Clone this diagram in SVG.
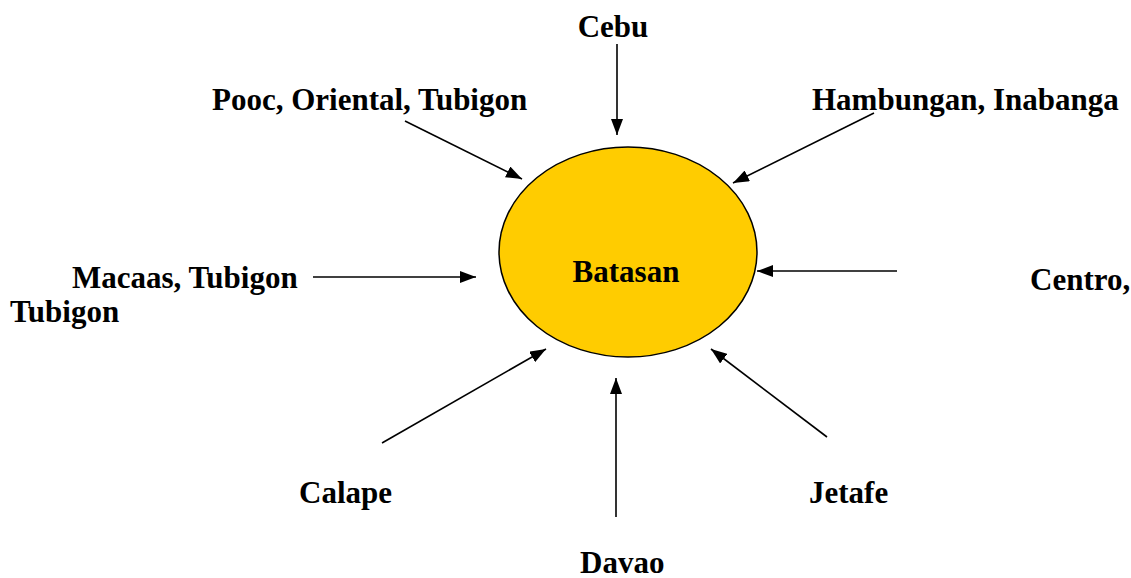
<svg xmlns="http://www.w3.org/2000/svg" width="1131" height="578" viewBox="0 0 1131 578">
<style>
.t{font-family:"Liberation Serif","Times New Roman",serif;font-weight:bold;font-size:31px;fill:#000}
.c{stroke:#000;stroke-width:1.6;fill:none;marker-end:url(#ah)}
</style>
<defs>
<marker id="ah" viewBox="0 0 16 12" refX="16" refY="6" markerWidth="16" markerHeight="12" markerUnits="userSpaceOnUse" orient="auto">
<path d="M0,0 L16,6 L0,12 Z" fill="#000"/>
</marker>
</defs>
<rect width="1131" height="578" fill="#fff"/>
<g id="connectors">
<line class="c" x1="617" y1="44" x2="617" y2="135"/>
<line class="c" x1="405" y1="121" x2="522" y2="179"/>
<line class="c" x1="874" y1="113" x2="733" y2="183"/>
<line class="c" x1="313" y1="277" x2="476" y2="277"/>
<line class="c" x1="897" y1="271" x2="757" y2="271"/>
<line class="c" x1="382" y1="443" x2="546" y2="349"/>
<line class="c" x1="827" y1="437" x2="711" y2="349"/>
<line class="c" x1="616" y1="517" x2="616" y2="378"/>
</g>
<g id="batasan">
<ellipse cx="628" cy="252" rx="129" ry="105" fill="#FFCC00" stroke="#000" stroke-width="1.5"/>
<text class="t" x="626" y="282" text-anchor="middle">Batasan</text>
</g>
<g id="cebu"><text class="t" x="613" y="37" text-anchor="middle">Cebu</text></g>
<g id="pooc"><text class="t" x="212" y="110">Pooc, Oriental, Tubigon</text></g>
<g id="hambungan"><text class="t" x="812" y="110">Hambungan, Inabanga</text></g>
<g id="macaas"><text class="t" x="72" y="288">Macaas, Tubigon</text><text class="t" x="10" y="322">Tubigon</text></g>
<g id="centro"><text class="t" x="1030" y="290">Centro,</text></g>
<g id="calape"><text class="t" x="299" y="503">Calape</text></g>
<g id="jetafe"><text class="t" x="809" y="503">Jetafe</text></g>
<g id="davao"><text class="t" x="580" y="573">Davao</text></g>
</svg>
